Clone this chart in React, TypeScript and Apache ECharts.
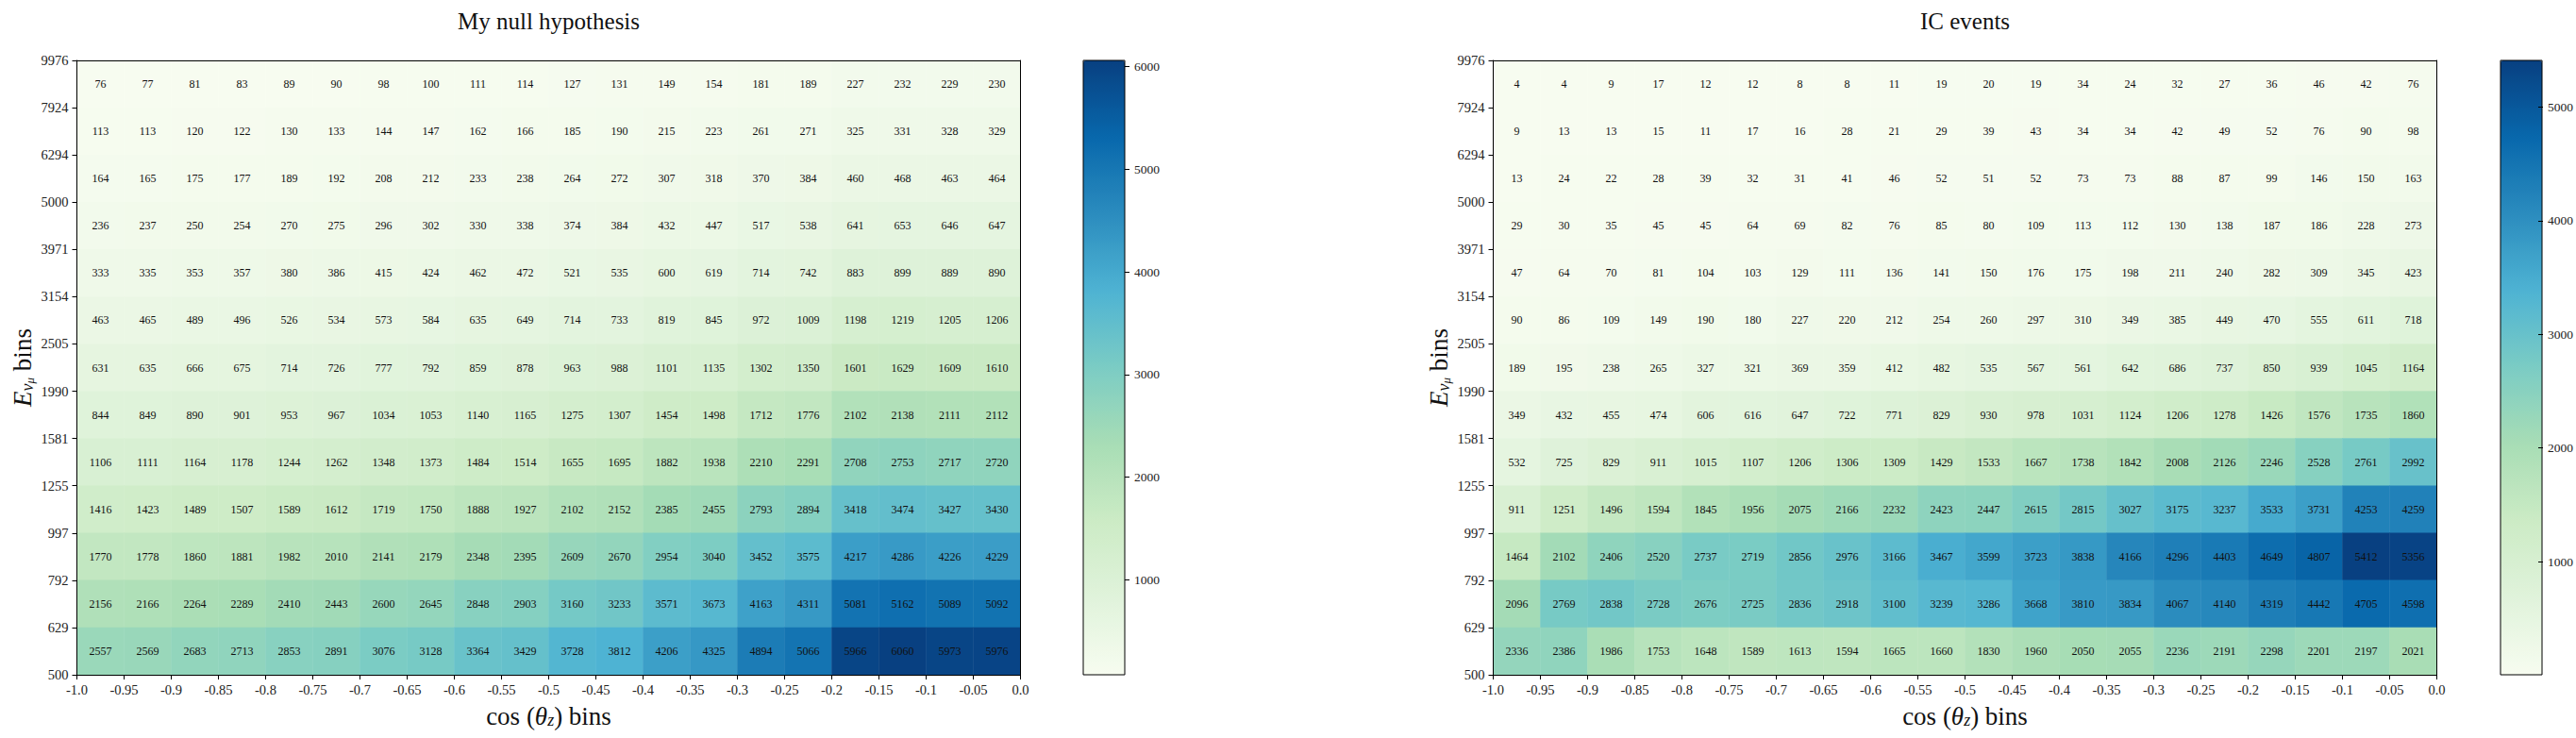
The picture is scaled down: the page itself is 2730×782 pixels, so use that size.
import React, { useEffect, useRef } from 'react';
import * as echarts from 'echarts';

// ---------- data ----------
const xTickLabels = ['-1.0', '-0.95', '-0.9', '-0.85', '-0.8', '-0.75', '-0.7', '-0.65', '-0.6', '-0.55', '-0.5', '-0.45', '-0.4', '-0.35', '-0.3', '-0.25', '-0.2', '-0.15', '-0.1', '-0.05', '0.0'];
const yTickLabels = ['500', '629', '792', '997', '1255', '1581', '1990', '2505', '3154', '3971', '5000', '6294', '7924', '9976'];

// rows listed from top (9976-7924) to bottom (629-500)
const nullRows: number[][] = [
  [76, 77, 81, 83, 89, 90, 98, 100, 111, 114, 127, 131, 149, 154, 181, 189, 227, 232, 229, 230],
  [113, 113, 120, 122, 130, 133, 144, 147, 162, 166, 185, 190, 215, 223, 261, 271, 325, 331, 328, 329],
  [164, 165, 175, 177, 189, 192, 208, 212, 233, 238, 264, 272, 307, 318, 370, 384, 460, 468, 463, 464],
  [236, 237, 250, 254, 270, 275, 296, 302, 330, 338, 374, 384, 432, 447, 517, 538, 641, 653, 646, 647],
  [333, 335, 353, 357, 380, 386, 415, 424, 462, 472, 521, 535, 600, 619, 714, 742, 883, 899, 889, 890],
  [463, 465, 489, 496, 526, 534, 573, 584, 635, 649, 714, 733, 819, 845, 972, 1009, 1198, 1219, 1205, 1206],
  [631, 635, 666, 675, 714, 726, 777, 792, 859, 878, 963, 988, 1101, 1135, 1302, 1350, 1601, 1629, 1609, 1610],
  [844, 849, 890, 901, 953, 967, 1034, 1053, 1140, 1165, 1275, 1307, 1454, 1498, 1712, 1776, 2102, 2138, 2111, 2112],
  [1106, 1111, 1164, 1178, 1244, 1262, 1348, 1373, 1484, 1514, 1655, 1695, 1882, 1938, 2210, 2291, 2708, 2753, 2717, 2720],
  [1416, 1423, 1489, 1507, 1589, 1612, 1719, 1750, 1888, 1927, 2102, 2152, 2385, 2455, 2793, 2894, 3418, 3474, 3427, 3430],
  [1770, 1778, 1860, 1881, 1982, 2010, 2141, 2179, 2348, 2395, 2609, 2670, 2954, 3040, 3452, 3575, 4217, 4286, 4226, 4229],
  [2156, 2166, 2264, 2289, 2410, 2443, 2600, 2645, 2848, 2903, 3160, 3233, 3571, 3673, 4163, 4311, 5081, 5162, 5089, 5092],
  [2557, 2569, 2683, 2713, 2853, 2891, 3076, 3128, 3364, 3429, 3728, 3812, 4206, 4325, 4894, 5066, 5966, 6060, 5973, 5976],
];

const icRows: number[][] = [
  [4, 4, 9, 17, 12, 12, 8, 8, 11, 19, 20, 19, 34, 24, 32, 27, 36, 46, 42, 76],
  [9, 13, 13, 15, 11, 17, 16, 28, 21, 29, 39, 43, 34, 34, 42, 49, 52, 76, 90, 98],
  [13, 24, 22, 28, 39, 32, 31, 41, 46, 52, 51, 52, 73, 73, 88, 87, 99, 146, 150, 163],
  [29, 30, 35, 45, 45, 64, 69, 82, 76, 85, 80, 109, 113, 112, 130, 138, 187, 186, 228, 273],
  [47, 64, 70, 81, 104, 103, 129, 111, 136, 141, 150, 176, 175, 198, 211, 240, 282, 309, 345, 423],
  [90, 86, 109, 149, 190, 180, 227, 220, 212, 254, 260, 297, 310, 349, 385, 449, 470, 555, 611, 718],
  [189, 195, 238, 265, 327, 321, 369, 359, 412, 482, 535, 567, 561, 642, 686, 737, 850, 939, 1045, 1164],
  [349, 432, 455, 474, 606, 616, 647, 722, 771, 829, 930, 978, 1031, 1124, 1206, 1278, 1426, 1576, 1735, 1860],
  [532, 725, 829, 911, 1015, 1107, 1206, 1306, 1309, 1429, 1533, 1667, 1738, 1842, 2008, 2126, 2246, 2528, 2761, 2992],
  [911, 1251, 1496, 1594, 1845, 1956, 2075, 2166, 2232, 2423, 2447, 2615, 2815, 3027, 3175, 3237, 3533, 3731, 4253, 4259],
  [1464, 2102, 2406, 2520, 2737, 2719, 2856, 2976, 3166, 3467, 3599, 3723, 3838, 4166, 4296, 4403, 4649, 4807, 5412, 5356],
  [2096, 2769, 2838, 2728, 2676, 2725, 2836, 2918, 3100, 3239, 3286, 3668, 3810, 3834, 4067, 4140, 4319, 4442, 4705, 4598],
  [2336, 2386, 1986, 1753, 1648, 1589, 1613, 1594, 1665, 1660, 1830, 1960, 2050, 2055, 2236, 2191, 2298, 2201, 2197, 2021],
];

const nullCbarTicks = [1000, 2000, 3000, 4000, 5000, 6000];
const icCbarTicks = [1000, 2000, 3000, 4000, 5000];

const titles = ['My null hypothesis', 'IC events'];

// ---------- styling / layout ----------
const FONT = "'Liberation Serif', 'Times New Roman', serif";
const GNBU = ['#f7fcf0', '#e0f3db', '#ccebc5', '#a8ddb5', '#7bccc4', '#4eb3d3', '#2b8cbe', '#0868ac', '#084081'];
const TOP = 64;
const PLOT_W = 1000;
const PLOT_H = 651;
const PLOT_LEFT = [81.5, 1582.5];
const CB_LEFT = [1148, 2650];
const CB_W = 44;

const xCategories = xTickLabels.slice(0, -1).map((l, i) => `${l}..${xTickLabels[i + 1]}`);
const yCategories = yTickLabels.slice(0, -1).map((l, i) => `${l}..${yTickLabels[i + 1]}`);

function toCells(rows: number[][]) {
  const n = rows.length;
  const out: number[][] = [];
  rows.forEach((row, r) => row.forEach((v, c) => out.push([c, n - 1 - r, v])));
  return out;
}

function buildOption() {
  const datasets = [nullRows, icRows];
  const cbTicks = [nullCbarTicks, icCbarTicks];
  const grid: any[] = [];
  const xAxis: any[] = [];
  const yAxis: any[] = [];
  const series: any[] = [];
  const visualMap: any[] = [];
  const graphic: any[] = [];

  const black = '#000';

  [0, 1].forEach((p) => {
    grid.push({ left: PLOT_LEFT[p], top: TOP, width: PLOT_W, height: PLOT_H, containLabel: false });
  });
  [0, 1].forEach((p) => {
    grid.push({ left: CB_LEFT[p], top: TOP, width: CB_W, height: PLOT_H, containLabel: false });
  });

  [0, 1].forEach((p) => {
    xAxis.push({
      type: 'category', gridIndex: p, data: xCategories, position: 'top', z: 10,
      axisLine: { show: true, onZero: false, lineStyle: { color: black, width: 1 } },
      axisTick: { show: false }, axisLabel: { show: false }, splitLine: { show: false },
    });
    xAxis.push({
      type: 'value', gridIndex: p, position: 'bottom', min: 0, max: 20, interval: 1, z: 10,
      axisLine: { show: true, onZero: false, lineStyle: { color: black, width: 1 } },
      axisTick: { show: true, inside: false, length: 5, lineStyle: { color: black, width: 1 } },
      axisLabel: {
        show: true, margin: 8, fontSize: 14.5, fontFamily: FONT, color: '#222',
        formatter: (v: number) => xTickLabels[Math.round(v)] ?? '',
      },
      splitLine: { show: false },
    });
    yAxis.push({
      type: 'category', gridIndex: p, data: yCategories, position: 'right', z: 10,
      axisLine: { show: true, onZero: false, lineStyle: { color: black, width: 1 } },
      axisTick: { show: false }, axisLabel: { show: false }, splitLine: { show: false },
    });
    yAxis.push({
      type: 'value', gridIndex: p, position: 'left', min: 0, max: 13, interval: 1, z: 10,
      axisLine: { show: true, onZero: false, lineStyle: { color: black, width: 1 } },
      axisTick: { show: true, inside: false, length: 5, lineStyle: { color: black, width: 1 } },
      axisLabel: {
        show: true, margin: 9, fontSize: 14.5, fontFamily: FONT, color: '#222',
        formatter: (v: number) => yTickLabels[Math.round(v)] ?? '',
      },
      splitLine: { show: false },
    });
  });

  [0, 1].forEach((p) => {
    const flat = datasets[p].flat();
    const vmin = Math.min(...flat);
    const vmax = Math.max(...flat);
    xAxis.push({ type: 'value', gridIndex: 2 + p, show: false, min: 0, max: 1 });
    yAxis.push({
      type: 'value', gridIndex: 2 + p, position: 'right', min: vmin, max: vmax, z: 10,
      axisLine: { show: false, onZero: false },
      axisTick: { show: true, inside: false, length: 5, lineStyle: { color: black, width: 1 }, customValues: cbTicks[p] },
      axisLabel: {
        show: true, margin: 10, fontSize: 13.5, fontFamily: FONT, color: '#222',
        customValues: cbTicks[p],
        formatter: (v: number) => String(v),
      },
      splitLine: { show: false },
    });

    series.push({
      type: 'heatmap', xAxisIndex: p * 2, yAxisIndex: p * 2,
      data: toCells(datasets[p]),
      label: {
        show: true, fontSize: 12, fontFamily: FONT, color: '#111',
        formatter: (prm: any) => String(prm.value[2]),
      },
      itemStyle: { borderWidth: 0 },
      emphasis: { disabled: true },
    });

    visualMap.push({
      type: 'continuous', seriesIndex: p, dimension: 2, min: vmin, max: vmax,
      inRange: { color: GNBU }, calculable: false, hoverLink: false,
      orient: 'vertical', left: CB_LEFT[p], top: TOP, padding: 0,
      itemWidth: CB_W, itemHeight: PLOT_H, text: null, showLabel: false,
    });

    graphic.push({
      type: 'rect', z: 100, silent: true,
      shape: { x: CB_LEFT[p], y: TOP, width: CB_W, height: PLOT_H },
      style: { fill: 'none', stroke: '#000', lineWidth: 1 },
    });

    const cx = PLOT_LEFT[p] + PLOT_W / 2;
    graphic.push({
      type: 'text', z: 100, x: cx, y: 22,
      style: { text: titles[p], x: 0, y: 0, align: 'center', verticalAlign: 'middle', fontSize: 25, fontFamily: FONT, fill: '#111' },
    });
    graphic.push({
      type: 'text', z: 100, x: cx, y: 756,
      style: {
        text: '{n|cos }{n|(}{i|θ}{s|z}{n|) bins}', x: 0, y: 0, align: 'center', verticalAlign: 'middle',
        fontSize: 27, fontFamily: FONT, fill: '#111',
        rich: {
          n: { fontSize: 27, fontFamily: FONT, fill: '#111', lineHeight: 32, verticalAlign: 'bottom' },
          i: { fontSize: 27, fontFamily: FONT, fontStyle: 'italic', fill: '#111', lineHeight: 32, verticalAlign: 'bottom' },
          s: { fontSize: 18, fontFamily: FONT, fontStyle: 'italic', fill: '#111', lineHeight: 16, verticalAlign: 'bottom' },
        },
      },
    });
    graphic.push({
      type: 'text', z: 100, x: PLOT_LEFT[p] - 60, y: TOP + PLOT_H / 2, rotation: Math.PI / 2,
      style: {
        text: '{i|E}{s|ν}{ss|μ}{n| bins}', x: 0, y: 0, align: 'center', verticalAlign: 'middle',
        fontSize: 27, fontFamily: FONT, fill: '#111',
        rich: {
          n: { fontSize: 27, fontFamily: FONT, fill: '#111', lineHeight: 32, verticalAlign: 'bottom' },
          i: { fontSize: 27, fontFamily: FONT, fontStyle: 'italic', fill: '#111', lineHeight: 32, verticalAlign: 'bottom' },
          s: { fontSize: 18, fontFamily: FONT, fontStyle: 'italic', fill: '#111', lineHeight: 16, verticalAlign: 'bottom' },
          ss: { fontSize: 13, fontFamily: FONT, fontStyle: 'italic', fill: '#111', lineHeight: 6, verticalAlign: 'bottom' },
        },
      },
    });
  });

  return {
    animation: false,
    backgroundColor: '#fff',
    grid, xAxis, yAxis, series, visualMap, graphic,
  };
}

export default function App() {
  const ref = useRef<HTMLDivElement>(null);
  useEffect(() => {
    if (!ref.current) return;
    const chart = echarts.init(ref.current, null, { renderer: 'svg' });
    chart.setOption(buildOption() as any);
    return () => chart.dispose();
  }, []);
  return (
    <div
      ref={ref}
      style={{ position: 'absolute', left: 0, top: 0, width: 2730, height: 782, background: '#fff' }}
    />
  );
}
